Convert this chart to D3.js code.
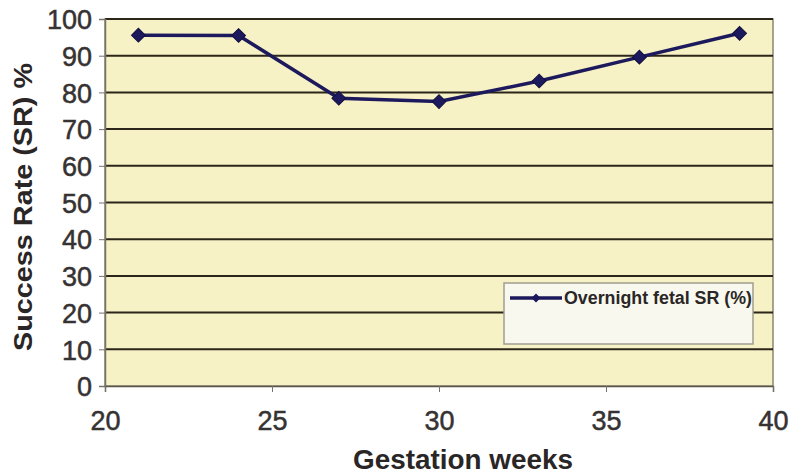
<!DOCTYPE html>
<html>
<head>
<meta charset="utf-8">
<script src="https://cdn.jsdelivr.net/npm/d3@7"></script>
<style>
  body { margin: 0; background: #fff; }
  svg { display: block; }
  text { font-family: "Liberation Sans", Arial, sans-serif; }
</style>
</head>
<body>
<svg class="chart" width="792" height="473"></svg>
<script>
const weeks = [21, 24, 27, 30, 33, 36, 39]
const successRate = [95.6, 95.5, 78.4, 77.5, 83.1, 89.6, 96.1]
const xTicks = [20, 25, 30, 35, 40]
const yTicks = [0, 10, 20, 30, 40, 50, 60, 70, 80, 90, 100]
const seriesName = 'Overnight fetal SR (%)'

const svg = d3.select('.chart')
const margin = { top: 19, right: 24, bottom: 87, left: 105 }
const innerWidth = 773 - margin.left
const innerHeight = 386 - margin.top

const xscale = d3.scaleLinear().domain([20, 40]).range([0, innerWidth])
const yscale = d3.scaleLinear().domain([0, 100]).range([innerHeight, 0])

const g = svg.append('g').attr('transform', `translate(${margin.left},${margin.top})`)

// plot background
g.append('rect')
    .attr('width', innerWidth)
    .attr('height', innerHeight)
    .attr('fill', '#f7f1c6')
    .attr('stroke', '#8a8670')
    .attr('stroke-width', 1.5)

// gridlines
g.selectAll('.grid').data(yTicks.filter(d => d > 0))
    .enter().append('line')
    .attr('class', 'grid')
    .attr('x1', 0)
    .attr('x2', innerWidth)
    .attr('y1', d => yscale(d))
    .attr('y2', d => yscale(d))
    .attr('stroke', '#2b2619')
    .attr('stroke-width', 2)

// y axis
const yAxis = d3.axisLeft(yscale).tickValues(yTicks).tickSize(6).tickPadding(7)
const ya = g.append('g').call(yAxis)
ya.select('.domain').attr('stroke', '#77736a').attr('stroke-width', 1.5)
ya.selectAll('.tick line').attr('stroke', '#77736a')
ya.selectAll('.tick text')
    .attr('font-size', 27)
    .attr('fill', '#363232')
    .attr('stroke', '#363232')
    .attr('stroke-width', 0.5)
    .attr('dy', '0.36em')

// x axis
const xAxis = d3.axisBottom(xscale).tickValues(xTicks).tickSize(6).tickPadding(19)
const xa = g.append('g').call(xAxis).attr('transform', `translate(0,${innerHeight})`)
xa.select('.domain').attr('stroke', '#5a564a').attr('stroke-width', 1.5)
xa.selectAll('.tick line').attr('stroke', '#77736a')
xa.selectAll('.tick text')
    .attr('font-size', 27)
    .attr('fill', '#363232')
    .attr('stroke', '#363232')
    .attr('stroke-width', 0.5)

// axis titles
svg.append('text')
    .attr('transform', `translate(32,207) rotate(-90)`)
    .attr('text-anchor', 'middle')
    .attr('font-size', 26)
    .attr('font-weight', 'bold')
    .attr('fill', '#2a2626')
    .attr('textLength', 288)
    .attr('lengthAdjust', 'spacingAndGlyphs')
    .text('Success Rate (SR) %')

svg.append('text')
    .attr('x', 463)
    .attr('y', 469)
    .attr('text-anchor', 'middle')
    .attr('font-size', 27)
    .attr('font-weight', 'bold')
    .attr('fill', '#2a2626')
    .attr('textLength', 220)
    .attr('lengthAdjust', 'spacingAndGlyphs')
    .text('Gestation weeks')

// series line
const lineColor = '#1c1a5c'
const data = weeks.map((w, i) => ({ x: w, y: successRate[i] }))
const line = d3.line().x(d => xscale(d.x)).y(d => yscale(d.y))

g.append('path')
    .datum(data)
    .attr('d', line)
    .attr('fill', 'none')
    .attr('stroke', lineColor)
    .attr('stroke-width', 3.5)

const diamond = d3.symbol().type(d3.symbolSquare).size(95)
g.selectAll('.pt').data(data)
    .enter().append('path')
    .attr('class', 'pt')
    .attr('d', diamond)
    .attr('transform', d => `translate(${xscale(d.x)},${yscale(d.y)}) rotate(45)`)
    .attr('fill', lineColor)
    .attr('stroke', '#121040')
    .attr('stroke-width', 1)

// legend
const lg = svg.append('g').attr('transform', 'translate(504,283)')
lg.append('rect')
    .attr('width', 249)
    .attr('height', 61)
    .attr('fill', '#f9f8ef')
    .attr('stroke', '#a09d90')
    .attr('stroke-width', 1.5)
lg.append('line')
    .attr('x1', 6).attr('x2', 58)
    .attr('y1', 15).attr('y2', 15)
    .attr('stroke', lineColor)
    .attr('stroke-width', 3.5)
lg.append('path')
    .attr('d', d3.symbol().type(d3.symbolSquare).size(40))
    .attr('transform', 'translate(32,15) rotate(45)')
    .attr('fill', lineColor)
lg.append('text')
    .attr('x', 60)
    .attr('y', 21)
    .attr('font-size', 18)
    .attr('font-weight', 'bold')
    .attr('fill', '#2a2626')
    .attr('textLength', 188)
    .attr('lengthAdjust', 'spacingAndGlyphs')
    .text(seriesName)
</script>
</body>
</html>
